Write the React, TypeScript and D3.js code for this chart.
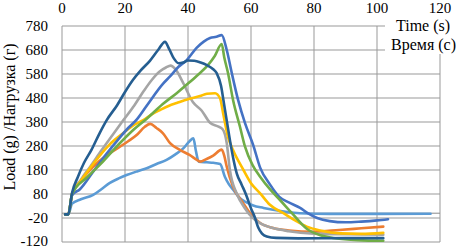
import React from "react";
import * as d3 from "d3";

const xTicks = [0, 20, 40, 60, 80, 100, 120];
const yTicks = [-120, -20, 80, 180, 280, 380, 480, 580, 680, 780];

const lightBlue: [number, number][] = [
  [1, -5], [2, -5], [3.2, 40], [6, 58], [9.9, 76], [12.5, 100], [15.2, 126], [18, 145],
  [20.5, 159], [24, 175], [26.9, 187], [30, 205], [33.2, 222], [36, 245], [38.5, 270],
  [40.5, 300], [41.7, 312], [42.5, 260], [43.4, 215], [46, 212], [48, 210], [50.2, 205],
  [51.7, 152], [53, 120], [54.4, 97], [56.5, 62], [58.6, 45], [60.7, 32], [64, 22],
  [67, 14], [71, 6], [75.5, 0], [85, -3], [100, -3], [117, -2],
];
const orange: [number, number][] = [
  [1, -5], [2, -5], [3.2, 80], [6, 135], [10, 195], [14, 240], [18.4, 277], [21, 300],
  [23.7, 326], [26.3, 360], [28, 372], [30, 355], [32, 334], [34.3, 292], [37.5, 263],
  [40.6, 242], [42.8, 222], [43.8, 215], [45.9, 226], [48, 240], [50.7, 265], [51.5, 240],
  [52.3, 194], [54.3, 110], [57.5, 42], [59.7, 0], [62.9, -41], [67, -62], [72, -72],
  [80, -77], [88, -70], [95, -63], [102, -56],
];
const gray: [number, number][] = [
  [1, -5], [2, -5], [3.2, 80], [6, 140], [9, 195], [12.6, 263], [16, 325], [19.5, 388],
  [23, 450], [26, 510], [28.5, 555], [31, 590], [33, 607], [34.5, 615], [36, 600],
  [38.5, 542], [41.6, 462], [44.3, 428], [47, 377], [49.5, 362], [51, 350], [52.3, 292],
  [53.3, 180], [55.4, 84], [58, 22], [60.2, -15], [62.9, -41], [67, -62], [72, -75],
  [80, -85], [90, -88], [102, -90],
];
const yellow: [number, number][] = [
  [1, -5], [2, -5], [3.2, 80], [6, 135], [8.9, 188], [12, 240], [15, 285], [19.5, 334],
  [22.5, 365], [25.8, 388], [28.5, 412], [31.1, 430], [34, 448], [36.4, 459], [40, 475],
  [43.8, 488], [46, 498], [48.6, 500], [50.2, 478], [51.1, 420], [52.7, 318], [54.3, 263],
  [57.6, 180], [60, 125], [62.9, 83], [66, 35], [70.3, 0], [74, -30], [77.7, -56],
  [82, -72], [88.3, -84], [95, -86], [102, -82],
];
const blue: [number, number][] = [
  [1, -5], [2, -5], [3.2, 75], [5.7, 100], [10, 175], [14, 245], [18, 310], [21, 355],
  [23.7, 390], [27, 450], [32.1, 540], [34.3, 570], [37, 610], [39.6, 638], [42.8, 690],
  [45, 715], [47, 730], [49, 735], [50.7, 742], [52.3, 680], [53.9, 584], [55.9, 472],
  [58.1, 375], [60.7, 284], [62.9, 190], [66, 120], [69, 68], [72, 45], [75.6, 22],
  [78, 0], [81, -20], [85, -33], [90, -38], [95, -35], [100, -30], [103.5, -25],
];
const green: [number, number][] = [
  [1, -5], [2, -5], [3.2, 80], [8, 150], [13, 215], [17.5, 280], [22.6, 347], [27, 395],
  [32, 455], [36.4, 500], [40, 540], [43, 575], [46.4, 618], [48.5, 655], [50.7, 705],
  [51.5, 650], [52.7, 584], [54.3, 472], [56.5, 360], [58.1, 277], [60.5, 200],
  [62.9, 152], [66, 100], [69.2, 55], [73, 0], [77.7, -65], [82, -92], [86, -103],
  [94, -112], [102, -115],
];
const darkBlue: [number, number][] = [
  [1, -5], [2, -5], [3.2, 85], [5, 150], [7, 210], [9.4, 265], [12, 335], [14.2, 388],
  [17.5, 450], [20, 505], [22.5, 555], [25, 595], [27.9, 635], [30.5, 680], [32.7, 714],
  [34, 685], [35.5, 645], [37, 625], [38.5, 628], [40, 636], [42, 635], [44, 628],
  [46, 617], [48, 600], [49.1, 584], [50.5, 530], [51.5, 450], [52.5, 370], [53.5, 290],
  [54.5, 220], [55.5, 165], [57, 120], [58.5, 75], [60, 20], [61.3, -20], [62.3, -60],
  [63.5, -85], [65, -97], [68, -103], [75, -105], [90, -104], [102, -104],
];

const series = [
  { data: lightBlue, color: "#5B9BD5" },
  { data: orange, color: "#ED7D31" },
  { data: gray, color: "#A5A5A5" },
  { data: yellow, color: "#FFC000" },
  { data: blue, color: "#4472C4" },
  { data: green, color: "#70AD47" },
  { data: darkBlue, color: "#255E91" },
];

const W = 458;
const H = 249;
const FONT = '"Liberation Serif", "Times New Roman", Times, serif';

export default function App() {
  const x = d3.scaleLinear().domain([0, 120]).range([62, 440]);
  const y = d3.scaleLinear().domain([-120, 780]).range([242, 26]);
  const line = d3
    .line<[number, number]>()
    .x((d) => x(d[0]))
    .y((d) => y(d[1]))
    .curve(d3.curveMonotoneX);
  const grid = "#999999";
  const ts = { fontFamily: FONT, fontSize: "15px" } as React.CSSProperties;
  return (
    <svg
      width={W}
      height={H}
      style={{ position: "absolute", left: 0, top: 0, background: "#fff", fontFamily: FONT }}
    >
      <rect x={0} y={0} width={W} height={H} fill="#fff" />
      {yTicks.map((t) => (
        <line key={"gy" + t} x1={x(0)} x2={x(120)} y1={y(t)} y2={y(t)} stroke={grid} strokeWidth={1} />
      ))}
      {xTicks.map((t) => (
        <line key={"gx" + t} x1={x(t)} x2={x(t)} y1={y(780)} y2={y(-120)} stroke={grid} strokeWidth={1} />
      ))}
      <line x1={x(0)} x2={x(120)} y1={y(0)} y2={y(0)} stroke="#8a8a8a" strokeWidth={1} />
      {series.map((s, i) => (
        <path key={i} d={line(s.data) || ""} fill="none" stroke={s.color} strokeWidth={2.6} strokeLinejoin="round" strokeLinecap="round" />
      ))}
      {yTicks.map((t) => (
        <text key={"ty" + t} x={48} y={Math.min(y(t), 241)} dy="0.33em" textAnchor="end" style={ts} fill="#000">
          {t}
        </text>
      ))}
      {xTicks.map((t) => (
        <text key={"tx" + t} x={x(t)} y={13} textAnchor="middle" style={ts} fill="#000">
          {t}
        </text>
      ))}
      <rect x={385} y={17} width={73} height={37} fill="#fff" />
      <text x={396} y={31} style={{ ...ts, fontSize: "16px" }} fill="#000">Time (s)</text>
      <text x={391} y={50} style={{ ...ts, fontSize: "16px" }} fill="#000">Время (с)</text>
      <text transform="translate(15,117) rotate(-90)" textAnchor="middle" style={{ ...ts, fontSize: "16px" }} fill="#000">
        Load (g) /Нагрузка (г)
      </text>
    </svg>
  );
}
